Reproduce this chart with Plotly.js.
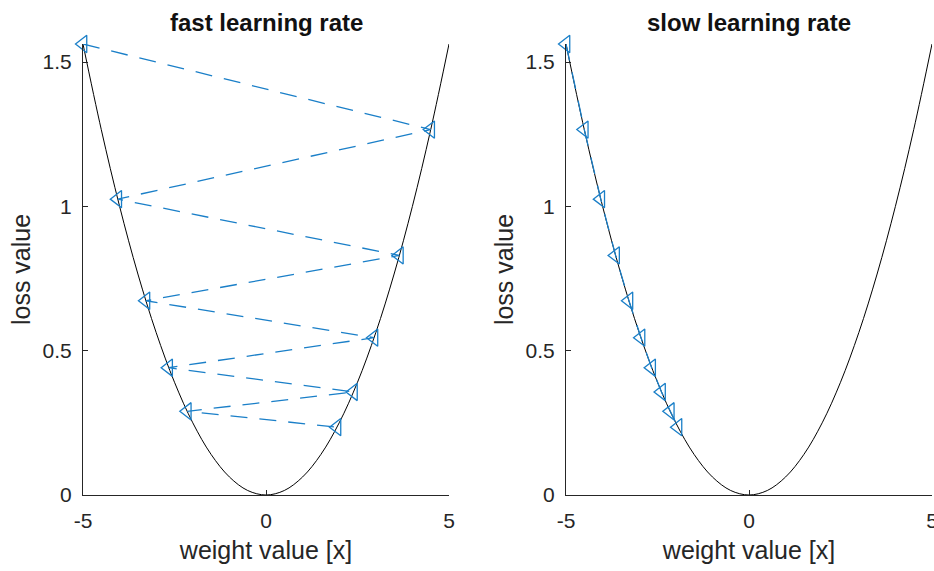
<!DOCTYPE html>
<html>
<head>
<meta charset="utf-8">
<script src="https://cdn.plot.ly/plotly-3.0.1.min.js"></script>
<style>
  html, body { margin: 0; padding: 0; background: #fff; }
  #chart { width: 934px; height: 571px; }
</style>
</head>
<body>
<div id="chart"></div>
<script>
// Loss curve samples (weight value vs loss value)
const curveX = [-5, -4.5, -4, -3.5, -3, -2.5, -2, -1.5, -1, -0.5, 0,
                0.5, 1, 1.5, 2, 2.5, 3, 3.5, 4, 4.5, 5];
const curveY = [1.5625, 1.2656, 1.0, 0.7656, 0.5625, 0.3906, 0.25, 0.1406, 0.0625, 0.0156, 0,
                0.0156, 0.0625, 0.1406, 0.25, 0.3906, 0.5625, 0.7656, 1.0, 1.2656, 1.5625];

// Gradient-descent steps with a fast learning rate (overshooting)
const fastX = [-5, 4.5, -4.05, 3.645, -3.28, 2.95, -2.66, 2.39, -2.15, 1.94];
const fastY = [1.5625, 1.266, 1.025, 0.830, 0.673, 0.545, 0.441, 0.357, 0.290, 0.235];

// Gradient-descent steps with a slow learning rate
const slowX = [-5, -4.5, -4.05, -3.645, -3.28, -2.95, -2.66, -2.39, -2.15, -1.94];
const slowY = [1.5625, 1.266, 1.025, 0.830, 0.673, 0.545, 0.441, 0.357, 0.290, 0.235];

const panelTitles = ['fast learning rate', 'slow learning rate'];
const xTicks = [-5, 0, 5];
const yTicks = [0, 0.5, 1, 1.5];

const FONT = 'Liberation Sans, Arial, Helvetica, sans-serif';
const AXC = '#262626';
const STEP = '#1a7fc8';

function curveTrace(xa, ya) {
  return {
    x: curveX, y: curveY, xaxis: xa, yaxis: ya,
    type: 'scatter', mode: 'lines',
    line: { color: '#000', width: 1, shape: 'spline' },
    hoverinfo: 'skip', cliponaxis: false
  };
}
function stepTrace(x, y, xa, ya) {
  return {
    x: x, y: y, xaxis: xa, yaxis: ya,
    type: 'scatter', mode: 'lines+markers',
    line: { color: STEP, width: 1.3, dash: '17px,12px' },
    marker: { symbol: 'triangle-left-open', size: 15, color: STEP, line: { width: 1.3, color: STEP } },
    cliponaxis: false
  };
}

function xAxis(domain, anchor) {
  return {
    domain: domain, anchor: anchor, range: [-5, 5],
    tickmode: 'array', tickvals: xTicks, ticktext: xTicks.map(String),
    ticks: 'inside', ticklen: 5, tickwidth: 1, tickcolor: AXC,
    showline: true, linecolor: AXC, linewidth: 1,
    showgrid: false, zeroline: false,
    ticklabeloverflow: 'allow', ticklabelstandoff: 7,
    tickfont: { family: FONT, size: 21, color: AXC },
    title: { text: 'weight value [x]', font: { family: FONT, size: 25, color: AXC }, standoff: 10 }
  };
}
function yAxis(domain, anchor) {
  return {
    domain: domain, anchor: anchor, range: [0, 1.5625],
    tickmode: 'array', tickvals: yTicks, ticktext: ['0', '0.5', '1', '1.5'],
    ticks: 'inside', ticklen: 5, tickwidth: 1, tickcolor: AXC,
    showline: true, linecolor: AXC, linewidth: 1,
    showgrid: false, zeroline: false,
    ticklabeloverflow: 'allow', ticklabelstandoff: 6,
    tickfont: { family: FONT, size: 21, color: AXC },
    title: { text: 'loss value', font: { family: FONT, size: 25, color: AXC }, standoff: 4 }
  };
}

const yDom = [76 / 571, 527 / 571];

const data = [
  curveTrace('x', 'y'),
  stepTrace(fastX, fastY, 'x', 'y'),
  curveTrace('x2', 'y2'),
  stepTrace(slowX, slowY, 'x2', 'y2')
];

const layout = {
  width: 934, height: 571,
  margin: { l: 0, r: 0, t: 0, b: 0 },
  paper_bgcolor: '#fff', plot_bgcolor: '#fff',
  showlegend: false,
  xaxis: xAxis([83 / 934, 449 / 934], 'y'),
  yaxis: yAxis(yDom, 'x'),
  xaxis2: xAxis([566 / 934, 932 / 934], 'y2'),
  yaxis2: yAxis(yDom, 'x2'),
  annotations: [
    { text: '<b>' + panelTitles[0] + '</b>', xref: 'paper', yref: 'paper',
      x: 266 / 934, y: 1 - 23 / 571, showarrow: false, xanchor: 'center', yanchor: 'middle',
      font: { family: FONT, size: 24, color: '#111' } },
    { text: '<b>' + panelTitles[1] + '</b>', xref: 'paper', yref: 'paper',
      x: 749 / 934, y: 1 - 23 / 571, showarrow: false, xanchor: 'center', yanchor: 'middle',
      font: { family: FONT, size: 24, color: '#111' } }
  ]
};

Plotly.newPlot('chart', data, layout, { staticPlot: true, displayModeBar: false });
</script>
</body>
</html>
